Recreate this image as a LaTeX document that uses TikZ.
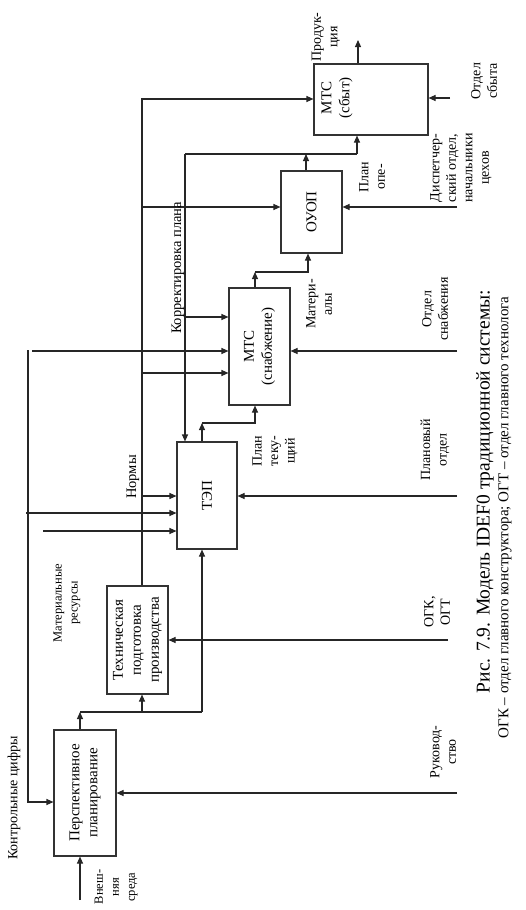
\documentclass[tikz,border=0pt]{standalone}
\usepackage{fontspec}
\setmainfont{Liberation Serif}
\usetikzlibrary{arrows.meta}
\begin{document}
\begin{tikzpicture}[x=1pt,y=-1pt,
  ln/.style={line width=1.1pt, draw=black!85},
  arr/.style={ln, -{Triangle[length=7pt,width=6pt]}},
  blk/.style={draw=black!80, line width=1.1pt, inner sep=0pt},
  lbl/.style={rotate=90, align=center, inner sep=0pt, font=\fontsize{14}{16.5}\selectfont},
  btxt/.style={rotate=90, align=center, inner sep=0pt, font=\fontsize{15}{18}\selectfont},
  sml/.style={rotate=90, align=center, inner sep=0pt, font=\fontsize{12.5}{16}\selectfont}]
\useasboundingbox (0,0) rectangle (525,910);
% boxes
\node[blk, minimum width=62pt, minimum height=126pt] (b1) at (85,793) {};
\node[blk, minimum width=61pt, minimum height=108pt] (b2) at (137.5,640) {};
\node[blk, minimum width=60pt, minimum height=107pt] (b3) at (207,495.5) {};
\node[blk, minimum width=61pt, minimum height=117pt] (b4) at (259.5,346.5) {};
\node[blk, minimum width=61pt, minimum height=82pt] (b5) at (311.5,212) {};
\node[blk, minimum width=114pt, minimum height=71pt] (b6) at (371,99.5) {};
% box texts
\node[btxt] (t1) at (85,793) {Перспективное\\планирование};
\node[btxt] (t2) at (137.5,640) {Техническая\\подготовка\\производства};
\node[btxt] (t3) at (207,495.5) {ТЭП};
\node[btxt] (t4) at (259.5,346.5) {МТС\\(снабжение)};
\node[btxt] (t5) at (311.5,212) {ОУОП};
\node[btxt] (t6) at (337,98) {МТС\\(сбыт)};
% coordinates
\coordinate (vs) at (80,900);
\coordinate (kc) at (28,350);
\coordinate (kc2) at (28,802);
\coordinate (ru) at (457,793);
\coordinate (j1) at (80,712);
\coordinate (j1b) at (142,712);
\coordinate (j1c) at (202,712);
\coordinate (ogk) at (448,640);
\coordinate (o2) at (142,99);
\coordinate (n1) at (142,496);
\coordinate (n2) at (142,373);
\coordinate (n3) at (142,207);
\coordinate (a1) at (26,513);
\coordinate (a2) at (43,531);
\coordinate (pl) at (457,496);
\coordinate (j3) at (202,423);
\coordinate (j3b) at (255,423);
\coordinate (kp) at (185,154);
\coordinate (kp2) at (185,317);
\coordinate (kc3) at (32,351);
\coordinate (sn) at (457,351);
\coordinate (j4) at (255,272);
\coordinate (j4b) at (308,272);
\coordinate (ds) at (457,207);
\coordinate (j5) at (306,154);
\coordinate (j5b) at (357,154);
\coordinate (os) at (450,98);
\coordinate (pr) at (358,40);
% box 1
\draw[arr] (vs) -- (vs |- b1.south);
\draw[arr] (kc) -- (kc2) -- (kc2 -| b1.west);
\draw[arr] (ru) -- (ru -| b1.east);
\draw[arr] (j1 |- b1.north) -- (j1);
\draw[ln] (j1) -- (j1c);
\draw[arr] (j1b) -- (j1b |- b2.south);
\draw[arr] (j1c) -- (j1c |- b3.south);
% box 2
\draw[arr] (ogk) -- (ogk -| b2.east);
\draw[arr] (o2 |- b2.north) -- (o2) -- (o2 -| b6.west);
\draw[arr] (n1) -- (n1 -| b3.west);
\draw[arr] (n2) -- (n2 -| b4.west);
\draw[arr] (n3) -- (n3 -| b5.west);
% box 3
\draw[arr] (a1) -- (a1 -| b3.west);
\draw[arr] (a2) -- (a2 -| b3.west);
\draw[arr] (pl) -- (pl -| b3.east);
\draw[arr] (j3 |- b3.north) -- (j3);
\draw[arr] (j3) -- (j3b) -- (j3b |- b4.south);
\draw[arr] (kp) -- (kp |- b3.north);
\draw[arr] (kp2) -- (kp2 -| b4.west);
% box 4
\draw[arr] (kc3) -- (kc3 -| b4.west);
\draw[arr] (sn) -- (sn -| b4.east);
\draw[arr] (j4 |- b4.north) -- (j4);
\draw[arr] (j4) -- (j4b) -- (j4b |- b5.south);
% box 5
\draw[arr] (ds) -- (ds -| b5.east);
\draw[arr] (j5 |- b5.north) -- (j5);
\draw[ln] (kp) -- (j5b);
\draw[arr] (j5b) -- (j5b |- b6.south);
% box 6
\draw[arr] (os) -- (os -| b6.east);
\draw[arr] (pr |- b6.north) -- (pr);
% labels
\node[lbl] (l1) at (14,798) {Контрольные цифры};
\node[sml] (l2) at (116,887) {Внеш-\\няя\\среда};
\node[lbl] (l3) at (443,752) {Руковод-\\ство};
\node[lbl] (l4) at (437,612) {ОГК,\\ОГТ};
\node[sml] (l5) at (67,603) {Материальные\\ресурсы};
\node[lbl, font=\fontsize{14.5}{17}\selectfont] (l6) at (133,477) {Нормы};
\node[lbl] (l7) at (275,451) {План\\теку-\\щий};
\node[lbl] (l8) at (435,450) {Плановый\\отдел};
\node[lbl, font=\fontsize{14.5}{17}\selectfont] (l9) at (178,268) {Корректировка плана};
\node[lbl] (l10) at (319,304) {Матери-\\алы};
\node[lbl] (l11) at (435,309) {Отдел\\снабжения};
\node[lbl] (l12) at (372,177) {План\\опе-};
\node[lbl] (l13) at (461,168) {Диспетчер-\\ский отдел,\\начальники\\цехов};
\node[lbl] (l14) at (484,81) {Отдел\\сбыта};
\node[lbl] (l15) at (326,37) {Продук-\\ция};
% caption
\node[rotate=90, inner sep=0pt, font=\fontsize{19.5}{22}\selectfont] (cap1) at (485,491.5) {Рис. 7.9. Модель IDEF0 традиционной системы:};
\node[rotate=90, inner sep=0pt, font=\fontsize{15}{18}\selectfont] (cap2) at (505,517.5) {ОГК – отдел главного конструктора; ОГТ – отдел главного технолога};
\end{tikzpicture}
\end{document}
